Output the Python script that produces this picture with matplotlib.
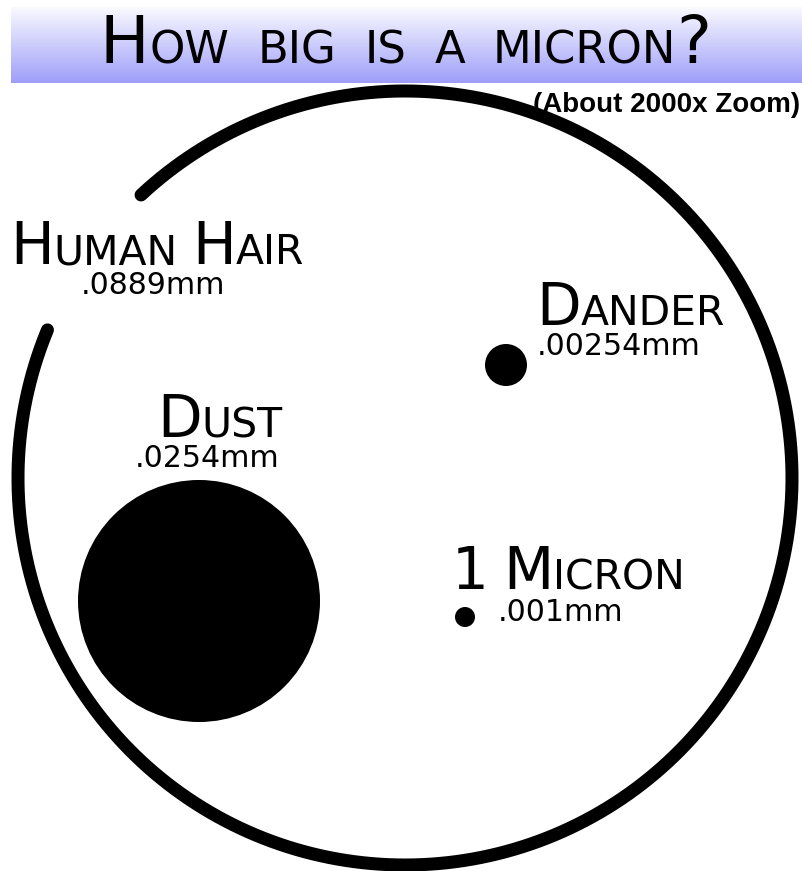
import numpy as np
import matplotlib
matplotlib.use("Agg")
import matplotlib.pyplot as plt
from matplotlib.patches import Circle

# things being compared, with their real size
names = ["Human Hair", "Dust", "Dander", "1 Micron"]
sizes_mm = [".0889mm", ".0254mm", ".00254mm", ".001mm"]

title = "How big is a micron?"
subtitle = "(About 2000x Zoom)"

W, H = 802, 871
PX = 72 / 100  # points per pixel at dpi 100

fig = plt.figure(figsize=(W / 100, H / 100), dpi=100)
ax = fig.add_axes([0, 0, 1, 1])
ax.set_xlim(0, W)
ax.set_ylim(H, 0)
ax.axis("off")
renderer = fig.canvas.get_renderer()

# title banner, vertical gradient
grad = np.linspace(0, 1, 256).reshape(-1, 1)
top = np.array([0.98, 0.98, 1.0])
bot = np.array([0.62, 0.62, 0.98])
img = top + (bot - top) * grad[..., None]
ax.imshow(img, extent=[11, W, 83, 7], aspect="auto", interpolation="bilinear")


def smallcaps(x, y, pieces, family, gap, **kw):
    # pieces: list of (text, size_pt); None means a word gap
    for txt, size in pieces:
        if txt is None:
            x += gap
            continue
        t = ax.text(x, y, txt, fontsize=size, family=family,
                    ha="left", va="baseline", **kw)
        x += t.get_window_extent(renderer).width
    return x


def word_pieces(words, big, small):
    # first letter of every word big, the rest as small caps
    out = []
    for i, w in enumerate(words):
        if i:
            out.append((None, 0))
        out.append((w[0].upper(), big))
        if w[1:]:
            out.append((w[1:].upper(), small))
    return out


# title: only the first letter and the question mark are full caps
tw = title.upper().rstrip("?").split(" ")
tpieces = []
for i, w in enumerate(tw):
    if i:
        tpieces.append((None, 0))
    if i == 0:
        tpieces += [(w[0], 66 * PX), (w[1:], 45 * PX)]
    else:
        tpieces.append((w, 45 * PX))
tpieces.append(("?", 66 * PX))
smallcaps(100, 63, tpieces, ["DejaVu Sans"], 28)

ax.text(800, 112, subtitle, ha="right", va="baseline", fontsize=20,
        fontweight="bold", family=["Liberation Sans", "DejaVu Sans"])

# big ring = human hair, with a gap at upper left
cx, cy, r = 405, 478, 387
t = np.radians(np.linspace(-133, -157.5 + 360, 800))
ax.plot(cx + r * np.cos(t), cy + r * np.sin(t), color="black",
        lw=13 * PX, solid_capstyle="round")

# dust, dander, micron dots
dots = [(199, 601, 121), (506, 365, 21), (465, 617, 10)]
for x0, y0, rad in dots:
    ax.add_patch(Circle((x0, y0), rad, color="black", lw=0))

# labels: (name x, name baseline, size x, size baseline)
label_pos = [(10, 264, 81, 294), (157, 437, 135, 467),
             (536, 325, 537, 355), (452, 589, 498, 621)]
big_pt, small_pt, sub_pt = 58 * PX, 41 * PX, 30 * PX
for name, size, (nx, ny, sx, sy) in zip(names, sizes_mm, label_pos):
    smallcaps(nx, ny, word_pieces(name.split(" "), big_pt, small_pt),
              ["DejaVu Sans"], 14)
    ax.text(sx, sy, size, fontsize=sub_pt, family="DejaVu Sans",
            ha="left", va="baseline")

fig.savefig("out.png", dpi=100)
